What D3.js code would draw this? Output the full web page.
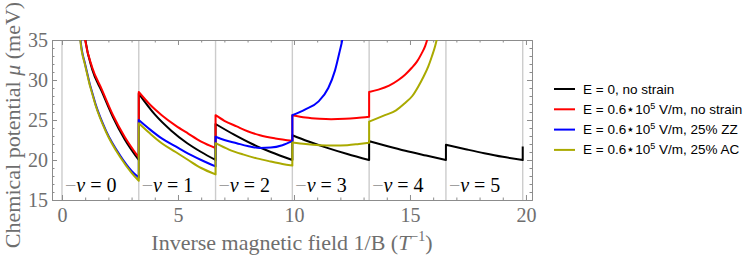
<!DOCTYPE html>
<html>
<head>
<meta charset="utf-8">
<script src="https://cdn.jsdelivr.net/npm/d3@7"></script>
<style>
    body { margin: 0; background: #fff; }
    svg { display: block; }
</style>
</head>
<body>
<svg id="chart" width="747" height="258"></svg>
<script>

// landau level boundaries (1/B, T^-1) and the filling labels
const levelEdges = [0, 3.31, 6.62, 9.93, 13.24, 16.55, 19.86];
const nuLabels = [0, 1, 2, 3, 4, 5];

const xTicks = [0, 5, 10, 15, 20];
const yTicks = [15, 20, 25, 30, 35];

const seriesNames = [
    'E = 0, no strain',
    'E = 0.6\u22C610^5 V/m, no strain',
    'E = 0.6\u22C610^5 V/m, 25% ZZ',
    'E = 0.6\u22C610^5 V/m, 25% AC'
];

// each series = list of segments (one per level), points are [1/B, mu]
const blackSegs = [
    [[0.92, 37.0], [1.02, 34.8], [1.3, 31.35], [1.72, 28.55], [2.2, 25.35], [2.7, 22.6], [3.31, 20.0]],
    [[3.31, 28.3], [4.0, 25.7], [4.7, 23.7], [5.4, 22.1], [6.0, 21.0], [6.62, 20.0]],
    [[6.62, 24.5], [7.4, 23.2], [8.2, 22.0], [9.0, 21.0], [9.93, 20.0]],
    [[9.93, 23.1], [10.6, 22.35], [11.4, 21.55], [12.3, 20.75], [13.24, 20.0]],
    [[13.24, 22.35], [14.0, 21.75], [14.8, 21.15], [15.7, 20.55], [16.55, 20.0]],
    [[16.55, 21.9], [17.4, 21.35], [18.2, 20.85], [19.0, 20.4], [19.86, 20.0]],
    [[19.86, 21.7]]
];

const redSegs = [
    [[0.9, 37.2], [1.0, 35.0], [1.3, 31.6], [1.72, 28.8], [2.2, 25.6], [2.7, 22.9], [3.31, 20.3]],
    [[3.31, 28.5], [3.8, 26.9], [4.3, 25.6], [4.9, 24.3], [5.44, 23.3], [6.0, 22.3], [6.62, 21.5]],
    [[6.62, 25.6], [7.0, 24.9], [7.53, 24.2], [8.0, 23.6], [8.53, 23.1], [9.2, 22.7], [9.93, 22.4]],
    [[9.93, 25.6], [10.5, 25.3], [11.1, 25.15], [11.6, 25.1], [12.2, 25.15], [12.7, 25.25], [13.24, 25.4]],
    [[13.24, 28.5], [13.64, 28.8], [14.1, 29.3], [14.5, 30.0], [14.8, 30.7], [15.07, 31.5], [15.3, 32.3], [15.5, 33.3], [15.65, 34.2], [15.72, 34.8], [15.8, 35.8]]
];

const blueSegs = [
    [[0.745, 37.1], [0.795, 35.1], [1.0, 31.95], [1.44, 27.05], [1.9, 23.65], [2.5, 20.6], [3.0, 18.65], [3.31, 17.8]],
    [[3.31, 25.0], [3.8, 23.8], [4.3, 22.7], [4.9, 21.7], [5.44, 20.8], [6.0, 20.0], [6.62, 19.2]],
    [[6.62, 22.9], [7.0, 22.5], [7.53, 22.1], [8.0, 21.75], [8.53, 21.5], [9.0, 21.55], [9.5, 21.85], [9.93, 22.35]],
    [[9.93, 25.6], [10.47, 26.3], [11.05, 27.3], [11.48, 29.0], [11.77, 31.2], [11.98, 33.7], [12.08, 35.0], [12.15, 36.5]]
];

const yellowSegs = [
    [[0.74, 37.0], [0.79, 35.0], [1.0, 31.8], [1.44, 26.9], [1.9, 23.5], [2.5, 20.4], [3.0, 18.4], [3.31, 17.4]],
    [[3.31, 24.6], [3.8, 23.3], [4.3, 22.1], [4.9, 21.0], [5.44, 20.0], [6.0, 19.0], [6.62, 18.2]],
    [[6.62, 22.1], [7.2, 21.3], [7.8, 20.7], [8.4, 20.2], [9.0, 19.8], [9.5, 19.5], [9.93, 19.3]],
    [[9.93, 22.2], [10.5, 22.0], [11.1, 21.85], [11.7, 21.8], [12.3, 21.85], [12.8, 22.0], [13.24, 22.15]],
    [[13.24, 24.8], [13.92, 25.6], [14.4, 26.2], [14.78, 27.1], [15.1, 28.0], [15.36, 29.2], [15.6, 30.5], [15.79, 31.7], [15.95, 33.0], [16.08, 34.2], [16.15, 35.0], [16.2, 35.8]]
];

const colors = ['#000000', '#ff0000', '#0000ff', '#aaaa00'];

const margin = {left: 52, top: 40, right: 215, bottom: 58};
const size = {w: 747 - margin.left - margin.right, h: 258 - margin.top - margin.bottom};

const serif = '"Liberation Serif", "DejaVu Serif", serif';
const sans = '"Liberation Sans", Arial, sans-serif';
const gray = '#6e6e6e';

let svg = d3.select('#chart');

let x = d3.scaleLinear().domain([-0.43, 20.26]).range([0, size.w]);
let y = d3.scaleLinear().domain([15, 35]).range([size.h, 0]);

let containerG = svg.append('g')
    .attr('transform', `translate(${margin.left}, ${margin.top})`);

svg.append('defs').append('clipPath')
    .attr('id', 'plot-clip')
    .append('rect')
    .attr('width', size.w)
    .attr('height', size.h);

// vertical lines at the level crossings
containerG.selectAll('line.grid')
    .data(levelEdges)
    .join('line')
    .classed('grid', true)
    .attr('x1', d => x(d))
    .attr('x2', d => x(d))
    .attr('y1', 0)
    .attr('y2', size.h)
    .attr('stroke', '#cccccc')
    .attr('stroke-width', 1.4);

// frame with inward ticks (mathematica style)
function drawFrame() {
    let axisColor = '#8c8c8c';

    let bottom = d3.axisBottom(x).tickValues(xTicks).tickSize(-5).tickPadding(8).tickFormat(d3.format('d'));
    let top = d3.axisTop(x).tickValues(xTicks).tickSize(-5).tickFormat('');
    let left = d3.axisLeft(y).tickValues(yTicks).tickSize(-5).tickPadding(4).tickFormat(d3.format('d'));
    let right = d3.axisRight(y).tickValues(yTicks).tickSize(-5).tickFormat('');

    let minorX = d3.range(0, 21, 1).filter(d => d % 5 !== 0);
    let minorY = d3.range(15, 36, 1).filter(d => d % 5 !== 0);

    let axes = [
        [bottom, `translate(0, ${size.h})`, d3.axisBottom, x, minorX],
        [top, 'translate(0, 0)', d3.axisTop, x, minorX],
        [left, 'translate(0, 0)', d3.axisLeft, y, minorY],
        [right, `translate(${size.w}, 0)`, d3.axisRight, y, minorY]
    ];

    axes.forEach(([ax, tr, fn, sc, minor]) => {
        // minor ticks first
        containerG.append('g')
            .attr('transform', tr)
            .call(fn(sc).tickValues(minor).tickSize(-2.5).tickFormat(''))
            .call(g => g.select('.domain').remove())
            .selectAll('line').attr('stroke', axisColor);

        let g = containerG.append('g')
            .attr('transform', tr)
            .call(ax);
        g.select('.domain').attr('stroke', axisColor);
        g.selectAll('line').attr('stroke', axisColor);
        g.selectAll('text')
            .attr('fill', gray)
            .style('font-family', serif)
            .style('font-size', '20px');
    });
}

drawFrame();

// one path per series, jumps become vertical pieces
let lineFn = d3.line()
    .x(d => x(d[0]))
    .y(d => y(d[1]))
    .curve(d3.curveMonotoneX);

function segPath(segs) {
    return segs.map((s, i) => {
        if (s.length === 1) return `L${x(s[0][0])},${y(s[0][1])}`;
        let d = lineFn(s);
        return (i ? 'L' : 'M') + d.slice(1);
    }).join('');
}

let allSeries = [blackSegs, redSegs, blueSegs, yellowSegs];

containerG.append('g')
    .attr('clip-path', 'url(#plot-clip)')
    .selectAll('path.curve')
    .data(allSeries)
    .join('path')
    .classed('curve', true)
    .attr('d', d => segPath(d))
    .attr('fill', 'none')
    .attr('stroke', (d, i) => colors[i])
    .attr('stroke-width', 2)
    .attr('stroke-linejoin', 'round');

// nu labels inside each level
let nuText = containerG.selectAll('text.nu')
    .data(nuLabels)
    .join('text')
    .classed('nu', true)
    .attr('x', d => x(levelEdges[d]) + 3)
    .attr('y', 152)
    .style('font-family', serif)
    .style('font-size', '20px')
    .attr('fill', '#000');

nuText.append('tspan').attr('fill', '#a0a0a0').text('\u2212');
nuText.append('tspan').style('font-style', 'italic').text('\u03BD');
nuText.append('tspan').text(d => ` = ${d}`);

// axis titles
let xTitle = svg.append('text')
    .attr('x', margin.left + size.w / 2)
    .attr('y', 250)
    .attr('text-anchor', 'middle')
    .attr('fill', gray)
    .style('font-family', serif)
    .style('font-size', '22px');
xTitle.append('tspan').text('Inverse magnetic field 1/B (');
xTitle.append('tspan').style('font-style', 'italic').text('T');
xTitle.append('tspan').attr('dy', -9).style('font-size', '14px').text('\u22121');
xTitle.append('tspan').attr('dy', 9).text(')');

let yTitle = svg.append('text')
    .attr('transform', `translate(20, ${margin.top + size.h / 2 + 5}) rotate(-90)`)
    .attr('text-anchor', 'middle')
    .attr('fill', gray)
    .style('font-family', serif)
    .style('font-size', '22px');
yTitle.append('tspan').text('Chemical potential ');
yTitle.append('tspan').style('font-style', 'italic').text('\u03BC');
yTitle.append('tspan').text(' (meV)');

// legend
let legendG = svg.append('g')
    .attr('transform', 'translate(554, 89)');

let legendRow = legendG.selectAll('g.row')
    .data(seriesNames)
    .join('g')
    .classed('row', true)
    .attr('transform', (d, i) => `translate(0, ${i * 20.3})`);

legendRow.append('line')
    .attr('x1', 0)
    .attr('x2', 21)
    .attr('stroke', (d, i) => colors[i])
    .attr('stroke-width', 2);

let legendText = legendRow.append('text')
    .attr('x', 29)
    .attr('y', 4.5)
    .style('font-family', sans)
    .style('font-size', '13.5px')
    .attr('fill', '#000');

legendText.each(function(d) {
    let t = d3.select(this);
    let parts = d.split('^');
    t.append('tspan').text(parts[0]);
    if (parts.length > 1) {
        t.append('tspan').attr('dy', -5).style('font-size', '9px').text(parts[1][0]);
        t.append('tspan').attr('dy', 5).text(parts[1].slice(1));
    }
});

</script>
</body>
</html>
